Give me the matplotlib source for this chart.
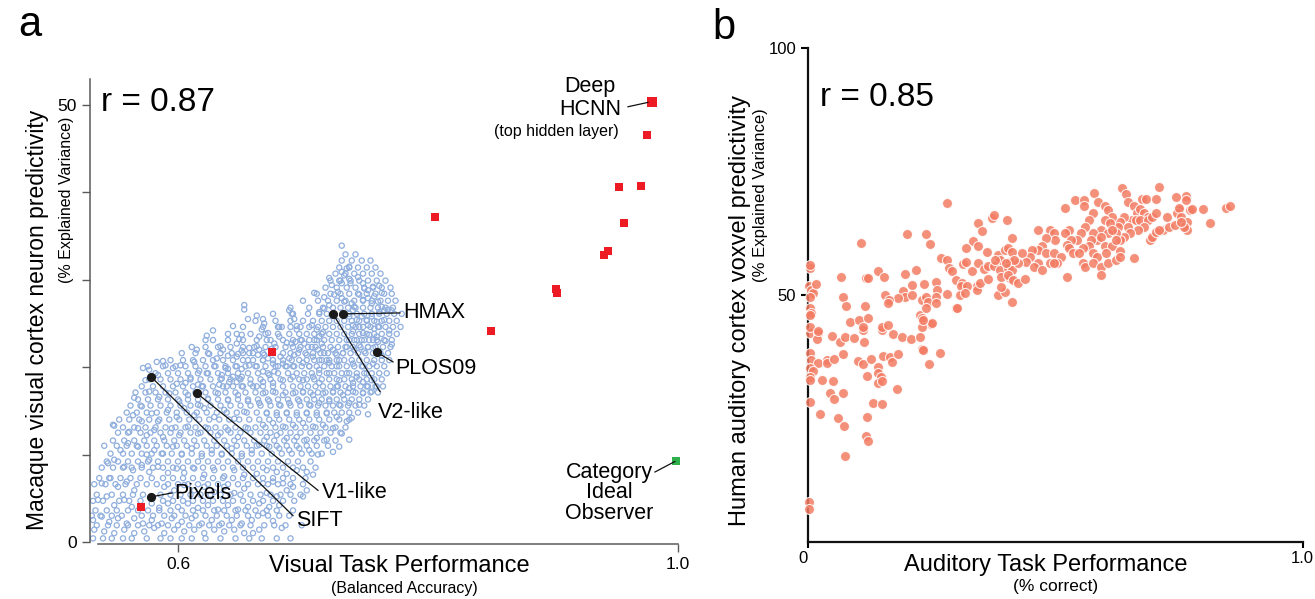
import numpy as np
import matplotlib
matplotlib.use("Agg")
import matplotlib.pyplot as plt

plt.rcParams['font.family'] = ['Liberation Sans', 'DejaVu Sans']

# ---------------- Panel a data ----------------
# blue cloud: (visual task performance, % explained variance), individual read-offs
cloud_a = [
(0.653,27.1),(0.653,26.6),(0.656,25.5),(0.644,24.7),(0.628,24.2),(0.623,23.6),(0.622,23.1),(0.615,22.0),(0.625,21.5),(0.634,22.4),
(0.636,22.0),(0.631,21.0),(0.640,21.3),(0.647,23.8),(0.651,23.7),(0.649,23.2),(0.647,22.7),(0.651,21.9),(0.648,21.5),(0.647,21.2),
(0.657,22.2),(0.657,21.6),(0.656,20.8),(0.657,20.2),(0.613,20.6),(0.629,20.1),(0.617,19.6),(0.623,19.3),(0.638,19.9),(0.640,19.8),
(0.647,20.1),(0.651,19.8),(0.583,20.6),(0.588,20.7),(0.590,20.2),(0.596,19.9),(0.602,20.2),(0.572,19.9),(0.576,20.1),(0.577,19.7),
(0.574,18.5),(0.584,19.1),(0.610,18.8),(0.599,18.1),(0.606,18.2),(0.616,18.0),(0.619,17.8),(0.635,19.1),(0.635,18.7),(0.644,18.9),
(0.641,18.3),(0.649,18.7),(0.651,18.9),(0.633,18.0),(0.639,17.8),(0.647,18.3),(0.651,17.8),(0.658,18.1),
(0.731,33.9),(0.737,31.5),(0.735,31.3),(0.731,30.9),(0.733,30.5),(0.721,30.2),(0.723,29.4),(0.729,29.9),(0.731,29.6),(0.737,30.1),
(0.738,29.6),(0.744,30.3),(0.748,29.6),(0.749,29.0),(0.752,28.8),(0.756,29.2),(0.761,29.3),(0.763,28.5),(0.709,28.5),(0.717,28.0),
(0.725,28.3),(0.728,28.6),(0.731,27.9),(0.733,27.5),(0.721,27.1),(0.717,26.7),(0.713,26.3),(0.739,27.3),(0.741,26.9),(0.740,26.5),
(0.745,28.3),(0.748,27.7),(0.752,27.9),(0.755,27.3),(0.757,28.1),(0.760,27.5),(0.763,26.9),(0.761,26.3),(0.765,26.5),(0.768,26.6),
(0.771,26.5),(0.737,25.8),(0.743,25.4),(0.747,25.8),(0.751,25.4),(0.755,25.8),(0.759,25.2),(0.752,24.8),(0.745,24.6),(0.740,24.8),
(0.757,24.4),(0.761,24.6),(0.748,23.9),(0.740,24.1),(0.753,23.7),(0.759,23.5),(0.743,23.1),(0.749,23.1),(0.756,23.1),(0.737,23.1),
(0.745,22.5),(0.752,22.3),(0.760,22.9),(0.741,22.0),(0.749,21.8),(0.756,22.2),(0.663,25.9),(0.668,25.5),(0.669,25.0),(0.672,23.9),
(0.667,24.3),(0.671,23.1),(0.665,23.5),(0.663,22.4),(0.664,21.4),(0.663,20.1),(0.669,21.4),(0.668,20.8),(0.672,21.0),(0.665,22.0),
(0.681,24.6),(0.683,24.6),(0.681,23.5),(0.677,22.7),(0.675,22.1),(0.682,21.2),(0.676,20.4),(0.680,20.1),(0.684,20.4),(0.677,19.5),
(0.673,19.1),(0.668,19.5),(0.689,26.5),(0.691,26.1),(0.693,25.5),(0.695,24.7),(0.695,24.3),(0.687,22.8),(0.691,22.7),(0.694,22.9),
(0.698,23.1),(0.701,22.7),(0.697,22.0),(0.693,21.4),(0.689,21.0),(0.687,20.1),(0.692,20.1),(0.707,24.8),(0.711,24.3),(0.709,23.1),
(0.713,23.5),(0.716,24.0),(0.715,22.7),(0.707,22.3),(0.712,22.0),(0.717,21.6),(0.708,21.2),(0.713,20.8),(0.719,20.8),(0.724,22.0),
(0.727,21.4),(0.721,20.5),(0.729,20.8),(0.727,20.1),(0.713,19.7),(0.705,20.1),(0.700,20.5),(0.703,21.4),(0.721,19.3),(0.708,18.9),
(0.732,21.6),(0.735,22.3),(0.740,20.4),(0.748,20.1),(0.756,20.4),(0.751,19.3),(0.743,18.9),(0.735,19.3),(0.729,18.5),(0.740,18.2),
(0.748,18.3),(0.755,18.5),(0.759,17.8),(0.751,17.8),(0.737,17.6),(0.727,17.8),(0.713,18.2),(0.700,18.5),(0.692,18.9),(0.684,18.5),
(0.676,18.2),(0.668,18.3),(0.663,17.8),(0.765,25.4),(0.769,24.2),(0.766,23.0),(0.763,21.3),(0.771,22.6),
(0.668,17.0),(0.676,17.2),(0.684,16.8),(0.692,17.0),(0.700,17.2),(0.708,16.8),(0.716,17.0),(0.724,17.2),(0.732,16.8),(0.740,17.2),
(0.748,17.0),(0.755,17.2),(0.665,15.9),(0.673,16.1),(0.681,15.7),(0.689,15.9),(0.697,16.1),(0.705,15.7),(0.713,15.9),(0.721,16.1),
(0.729,15.7),(0.737,15.9),(0.745,15.7),(0.671,14.7),(0.679,14.5),(0.687,14.7),(0.695,14.5),(0.703,14.7),(0.711,14.5),(0.719,14.7),
(0.727,14.3),(0.735,13.8),(0.739,14.2),(0.752,14.6),(0.668,13.4),(0.676,13.6),(0.684,13.2),(0.692,13.4),(0.700,13.6),(0.708,13.2),
(0.716,13.4),(0.724,13.0),(0.731,12.4),(0.737,11.7),(0.729,10.9),(0.671,12.0),(0.679,12.2),(0.687,11.9),(0.695,12.0),(0.703,11.7),
(0.711,11.9),(0.719,11.7),(0.724,10.3),(0.712,10.0),(0.705,10.5),(0.697,10.7),(0.689,10.5),(0.681,10.7),(0.673,10.9),(0.665,11.1),
(0.708,7.7),(0.703,8.0),(0.695,8.2),(0.687,7.8),(0.679,8.0),(0.671,8.2),(0.663,7.8),(0.692,6.3),(0.684,6.7),(0.676,6.9),
(0.668,6.7),(0.687,5.9),(0.679,5.2),(0.671,5.6),(0.700,5.2),(0.703,5.9),(0.681,4.2),(0.673,4.0),(0.665,4.4),(0.668,3.3),
(0.676,2.4),(0.683,1.6),(0.665,1.4),(0.660,1.0),
(0.577,17.2),(0.585,16.6),(0.593,17.0),(0.601,16.1),(0.608,16.8),(0.616,15.7),(0.624,16.4),(0.632,17.0),(0.640,16.2),(0.648,16.8),
(0.656,16.1),(0.564,14.5),(0.571,15.5),(0.571,13.8),(0.579,14.7),(0.584,13.8),(0.592,15.1),(0.599,14.3),(0.605,15.3),(0.613,14.5),
(0.621,15.3),(0.629,14.3),(0.637,15.1),(0.645,14.1),(0.653,14.9),(0.548,13.4),(0.561,12.6),(0.568,13.0),(0.575,12.2),(0.581,12.8),
(0.588,12.0),(0.595,13.0),(0.601,12.2),(0.608,13.2),(0.616,12.4),(0.624,13.0),(0.632,12.2),(0.640,12.8),(0.648,12.0),(0.656,13.0),
(0.554,10.5),(0.560,11.3),(0.568,10.9),(0.575,10.0),(0.577,9.4),(0.581,10.5),(0.588,10.1),(0.596,10.9),(0.603,10.0),(0.611,10.7),
(0.619,9.8),(0.627,10.5),(0.635,10.0),(0.643,10.7),(0.651,9.8),(0.659,10.5),(0.544,9.0),(0.549,9.4),(0.557,8.6),(0.564,8.2),
(0.571,8.8),(0.577,8.0),(0.584,8.6),(0.592,7.9),(0.599,8.4),(0.605,7.9),(0.613,8.4),(0.621,7.7),(0.629,8.2),(0.637,7.5),
(0.645,8.2),(0.653,7.7),(0.539,6.7),(0.545,7.3),(0.552,6.3),(0.559,6.9),(0.565,5.9),(0.589,6.3),(0.597,5.9),(0.605,6.5),
(0.613,5.9),(0.621,6.3),(0.629,5.7),(0.637,6.3),(0.645,5.6),(0.653,6.1),(0.536,4.8),(0.543,5.2),(0.549,4.2),(0.557,4.8),
(0.563,4.0),(0.579,4.4),(0.585,3.9),(0.592,4.4),(0.600,4.0),(0.608,4.4),(0.616,3.9),(0.624,4.2),(0.632,3.7),(0.640,4.2),
(0.648,3.7),(0.656,4.0),(0.532,2.5),(0.539,2.9),(0.545,2.3),(0.552,2.7),(0.559,2.1),(0.565,2.7),(0.572,2.1),(0.579,2.5),
(0.587,2.1),(0.595,2.7),(0.603,2.3),(0.611,2.7),(0.619,2.1),(0.627,2.5),(0.635,2.1),(0.643,2.5),(0.651,2.1),(0.659,2.5),
(0.533,1.4),(0.541,1.2),(0.549,1.0),(0.557,1.4),(0.565,1.0),(0.573,1.2),(0.581,1.6),(0.589,1.0),(0.597,1.4),(0.605,1.2),
(0.613,1.4),(0.621,1.0),(0.629,1.4),(0.637,1.2),(0.645,1.4),(0.653,1.0),(0.549,13.3),(0.565,16.5),
]

# further read-offs of the cloud, scanned row by row: (height, [performances])
cloud_a_rows = [
(0.4, [.532,.540,.547,.556,.563,.575,.586,.594,.603,.611,.622,.634,.646,.657,.667,.679,.690]),
(1.9, [.535,.544,.551,.560,.568,.577,.584,.592,.600,.609,.617,.625,.633,.641,.650,.658,.669,.677,.686,.699]),
(3.0, [.531,.538,.547,.555,.571,.580,.589,.597,.606,.614,.622,.631,.639,.647,.656,.664,.672,.681,.689]),
(3.6, [.534,.543,.551,.560,.568,.576,.585,.594,.603,.612,.620,.629,.637,.646,.654,.662,.671,.679,.692]),
(4.7, [.532,.540,.553,.561,.570,.588,.596,.604,.612,.620,.628,.636,.644,.652,.660,.668,.676,.684,.693]),
(5.4, [.535,.547,.556,.564,.572,.586,.594,.602,.610,.618,.626,.634,.642,.650,.658,.666,.674,.682,.690,.698]),
(6.6, [.533,.542,.550,.558,.567,.575,.583,.592,.600,.608,.616,.624,.632,.640,.648,.656,.664,.672,.680,.690,.700]),
(7.3, [.537,.546,.554,.562,.570,.579,.588,.596,.604,.612,.620,.628,.636,.644,.652,.660,.668,.676,.684,.692,.702]),
(8.5, [.539,.548,.556,.563,.571,.580,.588,.596,.604,.612,.620,.628,.636,.644,.652,.660,.668,.676,.684,.692,.700,.710]),
(9.2, [.543,.552,.560,.568,.576,.584,.592,.600,.608,.616,.624,.632,.640,.648,.656,.664,.672,.680,.688,.696,.706]),
(10.1, [.546,.556,.563,.571,.579,.587,.595,.603,.611,.619,.627,.635,.643,.651,.659,.667,.675,.683,.691,.699,.707,.715]),
(11.0, [.541,.551,.559,.567,.575,.583,.591,.599,.607,.615,.623,.631,.639,.647,.655,.663,.671,.679,.687,.695,.703,.711,.720]),
(11.6, [.548,.557,.565,.573,.581,.589,.597,.605,.613,.621,.629,.637,.645,.653,.661,.669,.677,.685,.693,.701,.709,.717,.726]),
(12.5, [.552,.560,.570,.578,.586,.594,.602,.610,.618,.626,.634,.642,.650,.658,.666,.674,.682,.690,.698,.706,.714,.722,.730]),
(13.1, [.556,.565,.574,.582,.590,.598,.606,.614,.622,.630,.638,.646,.654,.662,.670,.678,.686,.694,.702,.710,.718,.726,.734]),
(14.0, [.553,.561,.569,.577,.585,.593,.601,.609,.617,.625,.633,.641,.649,.657,.665,.673,.681,.689,.697,.705,.713,.721,.729,.737]),
(14.8, [.559,.567,.575,.583,.591,.599,.607,.615,.623,.631,.639,.647,.655,.663,.671,.679,.687,.695,.703,.711,.719,.725,.731,.737,.744]),
(15.6, [.562,.570,.578,.586,.594,.602,.610,.618,.626,.634,.642,.650,.658,.666,.674,.682,.690,.698,.706,.712,.718,.724,.730,.736,.742,.749]),
(16.3, [.568,.576,.584,.592,.600,.608,.616,.624,.632,.640,.648,.656,.664,.672,.680,.688,.696,.703,.709,.715,.721,.727,.733,.739,.745,.752]),
(17.1, [.566,.574,.582,.590,.598,.606,.614,.622,.630,.638,.646,.654,.662,.670,.678,.686,.694,.700,.706,.712,.718,.724,.730,.736,.742,.748,.754,.760]),
(17.8, [.571,.580,.588,.596,.604,.612,.620,.628,.636,.644,.652,.660,.668,.676,.684,.692,.698,.704,.710,.716,.722,.728,.734,.740,.746,.752,.758,.764]),
(18.6, [.577,.586,.594,.602,.610,.618,.626,.634,.642,.650,.658,.666,.674,.682,.690,.697,.703,.709,.715,.721,.727,.733,.739,.745,.751,.757,.763]),
(19.3, [.582,.592,.600,.608,.616,.624,.632,.640,.648,.656,.664,.672,.680,.688,.695,.701,.707,.713,.719,.725,.731,.737,.743,.749,.755,.761,.767]),
(20.1, [.588,.598,.606,.614,.622,.630,.638,.646,.654,.662,.670,.678,.686,.693,.699,.705,.711,.717,.723,.729,.735,.741,.747,.753,.759,.765]),
(20.8, [.594,.604,.612,.620,.628,.636,.644,.652,.660,.668,.676,.684,.691,.697,.703,.709,.715,.721,.727,.733,.739,.745,.751,.757,.763,.769]),
(21.6, [.603,.614,.624,.634,.643,.652,.660,.668,.676,.684,.690,.696,.702,.708,.714,.720,.726,.732,.738,.744,.750,.756,.762,.768]),
(22.3, [.611,.622,.632,.642,.652,.661,.670,.678,.686,.692,.698,.704,.710,.716,.722,.728,.734,.740,.746,.752,.758,.764,.770]),
(23.1, [.628,.640,.652,.663,.674,.684,.692,.699,.705,.711,.717,.723,.729,.735,.741,.747,.753,.759,.765,.771]),
(23.8, [.640,.658,.670,.680,.689,.697,.703,.709,.715,.721,.727,.733,.739,.745,.751,.757,.763,.769,.775]),
(24.6, [.652,.668,.680,.690,.698,.705,.712,.718,.724,.730,.736,.742,.748,.754,.760,.766,.772,.778]),
(25.3, [.662,.678,.690,.700,.708,.715,.721,.727,.733,.739,.745,.751,.757,.763,.769,.775]),
(26.1, [.676,.692,.704,.713,.719,.737,.743,.749,.755,.761,.767,.773,.779]),
(26.8, [.690,.705,.716,.724,.730,.736,.742,.748,.754,.760,.766,.772]),
(27.6, [.700,.712,.720,.727,.734,.741,.748,.755,.762,.768,.774]),
(28.4, [.711,.722,.730,.737,.744,.751,.758,.765,.771]),
(29.1, [.718,.727,.735,.742,.749,.756,.763,.770]),
(29.9, [.722,.730,.738,.745,.752,.759,.766]),
(30.7, [.726,.734,.741,.748,.755,.762]),
(31.4, [.729,.737,.744,.751,.758]),
(32.2, [.731,.739,.747,.754]),
(32.9, [.734,.742]),
]

# red squares (deep networks), first one = top hidden layer (drawn larger)
red_x = [0.9792, 0.9752, 0.9528, 0.9704, 0.9568, 0.9440, 0.9408, 0.9024, 0.9032, 0.8056, 0.8504, 0.6752, 0.5704]
red_y = [50.4, 46.6, 40.6, 40.7, 36.5, 33.3, 32.8, 28.9, 28.5, 37.2, 24.1, 21.7, 4.0]
# green square (category ideal observer)
green_x = [0.9984]
green_y = [9.3]
# named models (black dots)
model_names = ["Pixels", "SIFT", "V1-like", "V2-like", "HMAX", "PLOS09"]
model_x = [0.5784, 0.5784, 0.6152, 0.7240, 0.7320, 0.7592]
model_y = [5.15, 18.9, 17.0, 26.1, 26.1, 21.7]

# ---------------- Panel b data ----------------
cloud_b = [
(0.005,42.2),(0.022,42.3),(0.019,41.0),(0.049,41.7),(0.066,40.5),(0.076,41.4),(0.093,41.3),(0.115,40.4),(0.113,42.9),(0.151,42.9),
(0.173,42.1),(0.190,41.5),(0.210,41.1),(0.227,41.5),(0.231,39.0),(0.234,38.8),(0.268,38.2),(0.245,35.9),(0.005,38.2),(0.008,36.8),
(0.022,36.1),(0.039,36.8),(0.039,36.1),(0.054,37.1),(0.072,38.0),(0.103,36.6),(0.113,35.9),(0.128,37.0),(0.142,35.4),(0.153,37.7),
(0.167,37.5),(0.171,36.3),(0.182,38.0),(0.005,35.1),(0.012,34.6),(0.005,33.4),(0.005,32.8),(0.030,32.8),(0.052,32.6),(0.120,33.6),
(0.143,34.1),(0.148,33.4),(0.143,32.2),(0.151,32.6),(0.180,30.9),(0.045,30.2),(0.054,29.0),(0.071,30.1),(0.005,28.2),(0.025,25.8),
(0.062,25.0),(0.073,23.4),(0.120,25.2),(0.132,28.0),(0.150,27.9),(0.118,21.4),(0.122,20.3),(0.076,17.4),(0.003,8.1),(0.003,6.6),
(0.282,68.7),(0.109,60.6),(0.202,62.3),(0.239,62.3),(0.247,60.4),(0.344,64.6),(0.352,62.9),(0.372,65.6),(0.377,66.2),(0.404,65.2),
(0.335,60.9),(0.320,59.4),(0.344,59.8),(0.362,58.7),(0.385,58.1),(0.389,57.0),(0.398,59.1),(0.406,59.4),(0.413,61.5),(0.413,58.7),
(0.409,56.7),(0.269,57.4),(0.281,57.1),(0.286,55.4),(0.291,54.9),(0.314,56.2),(0.320,56.7),(0.332,54.9),(0.345,56.5),(0.357,55.2),
(0.365,55.8),(0.377,55.8),(0.379,57.1),(0.389,55.0),(0.390,53.7),(0.406,55.4),(0.413,55.0),(0.409,53.4),(0.300,53.0),(0.312,52.3),
(0.310,51.7),(0.322,51.8),(0.342,51.7),(0.343,51.0),(0.348,52.3),(0.365,53.2),(0.308,50.0),(0.318,50.3),(0.301,47.3),(0.384,50.0),
(0.398,50.6),(0.281,50.2),(0.259,52.7),(0.262,51.0),(0.236,52.2),(0.212,51.9),(0.219,55.0),(0.196,54.2),(0.192,50.8),(0.197,49.5),
(0.212,50.0),(0.183,49.3),(0.157,50.0),(0.165,49.0),(0.163,48.4),(0.143,54.8),(0.155,53.7),(0.118,53.5),(0.122,53.5),(0.068,53.7),
(0.071,49.5),(0.078,47.8),(0.116,47.7),(0.086,44.6),(0.104,44.9),(0.122,45.3),(0.113,43.5),(0.150,43.5),(0.163,43.9),(0.231,49.0),
(0.239,49.6),(0.243,48.6),(0.259,49.5),(0.260,48.4),(0.227,45.9),(0.231,45.3),(0.239,47.3),(0.249,44.1),(0.231,43.5),(0.005,55.4),
(0.003,51.7),(0.008,51.0),(0.012,50.3),(0.005,49.6),(0.005,47.3),(0.008,46.3),(0.005,45.9),(0.017,52.2),(0.005,43.4),(0.021,42.7),
(0.005,56.0),(0.406,54.0),(0.416,53.0),(0.414,48.6),(0.303,47.3),(0.251,44.2),(0.234,44.9),(0.425,52.5),(0.440,53.2),(0.390,51.5),
(0.579,70.7),(0.636,71.7),(0.643,70.4),(0.711,71.8),(0.704,69.4),(0.676,69.4),(0.684,69.4),(0.745,69.9),(0.764,70.0),(0.764,69.2),
(0.586,68.9),(0.600,68.0),(0.541,69.2),(0.558,69.2),(0.521,67.5),(0.559,67.9),(0.648,68.9),(0.846,67.5),(0.853,67.9),(0.799,67.4),
(0.813,64.5),(0.751,67.1),(0.773,67.2),(0.777,67.3),(0.727,65.8),(0.747,66.5),(0.750,67.5),(0.755,65.8),(0.767,64.8),(0.767,63.2),
(0.761,63.8),(0.719,63.2),(0.731,63.8),(0.743,64.2),(0.755,64.8),(0.692,61.1),(0.696,61.8),(0.704,62.8),(0.711,63.2),(0.660,67.9),
(0.666,66.5),(0.672,67.3),(0.680,66.5),(0.688,65.8),(0.656,65.2),(0.664,65.2),(0.672,65.2),(0.688,65.2),(0.696,65.8),(0.704,66.5),
(0.680,63.8),(0.668,63.2),(0.640,65.8),(0.632,64.8),(0.628,63.8),(0.648,63.8),(0.652,62.5),(0.640,61.8),(0.632,61.1),(0.624,62.5),
(0.608,67.2),(0.616,65.8),(0.600,65.2),(0.612,64.5),(0.592,63.2),(0.608,62.5),(0.616,63.2),(0.585,61.1),(0.577,62.5),(0.592,61.8),
(0.600,59.8),(0.616,59.8),(0.624,61.1),(0.577,66.5),(0.569,65.2),(0.561,63.8),(0.553,62.5),(0.573,61.1),(0.569,59.8),(0.577,58.4),
(0.557,59.4),(0.545,61.1),(0.585,57.7),(0.604,58.4),(0.632,58.8),(0.660,57.4),(0.529,63.2),(0.521,62.5),(0.533,61.1),(0.525,60.1),
(0.529,59.4),(0.537,58.4),(0.549,58.4),(0.489,63.2),(0.497,62.5),(0.501,61.1),(0.481,61.5),(0.473,59.8),(0.465,59.1),(0.481,58.4),
(0.497,58.4),(0.513,57.7),(0.505,56.4),(0.489,56.4),(0.465,63.2),(0.453,59.1),(0.449,57.7),(0.434,58.4),(0.442,56.7),(0.426,56.4),
(0.418,57.1),(0.402,56.4),(0.465,56.4),(0.458,55.7),(0.473,55.0),(0.497,56.4),(0.557,56.4),(0.561,55.7),(0.577,56.4),(0.592,55.7),
(0.608,56.4),(0.624,57.1),(0.632,57.7),(0.592,54.0),(0.525,53.7),
]

# ---------------- Figure ----------------
W, H = 1315, 599
fig = plt.figure(figsize=(W / 100, H / 100), dpi=100)

blue = '#8FAEDD'
red = '#ED1C24'
green = '#2EB04B'
salmon = '#F37B62'
grey = '#5A5A5A'

# ===== panel a =====
axa = fig.add_axes([90 / W, (H - 548) / H, 600 / W, 488 / H])
axa.set_xlim(0.5296, 1.0096)
axa.set_ylim(-0.7, 55.15)
ca = np.array(cloud_a)
rx = np.array([x for y, xs in cloud_a_rows for x in xs])
ry = np.array([y for y, xs in cloud_a_rows for x in xs])
allx = np.concatenate([ca[:, 0], rx])
ally = np.concatenate([ca[:, 1], ry])
axa.scatter(allx, ally, s=14, facecolors='none', edgecolors=blue, linewidths=0.9, zorder=2)
axa.scatter(red_x[1:], red_y[1:], marker='s', s=30, color=red, linewidths=0, zorder=3)
axa.scatter(red_x[:1], red_y[:1], marker='s', s=62, color=red, linewidths=0, zorder=3)
axa.scatter(green_x, green_y, marker='s', s=36, color=green, linewidths=0, zorder=3)
axa.scatter(model_x, model_y, s=44, color='#1A1A1A', linewidths=0, zorder=5)

for s in ['top', 'right']:
    axa.spines[s].set_visible(False)
axa.spines['left'].set_bounds(0, 53)
axa.spines['left'].set_color(grey)
axa.spines['left'].set_linewidth(1.1)
axa.spines['bottom'].set_position(('data', -0.25))
axa.spines['bottom'].set_bounds(0.536, 1.0)
axa.spines['bottom'].set_color(grey)
axa.spines['bottom'].set_linewidth(1.1)
axa.set_yticks([0, 10, 20, 30, 40, 50])
axa.set_yticklabels(['0', '', '', '', '', '50'])
axa.set_xticks([0.6, 1.0])
axa.set_xticklabels(['0.6', '1.0'])
axa.tick_params(axis='both', direction='out', length=5.5, width=1.0, color=grey, labelsize=12.5, pad=4)

# annotations
lk = dict(color='#111111', lw=0.9, zorder=4)
fs_lab = 15.5
axa.plot([model_x[4], 0.7776], [model_y[4], 26.2], **lk)
axa.text(0.7800, 26.2, 'HMAX', fontsize=fs_lab, va='center', ha='left')
axa.plot([model_x[5], 0.7720], [model_y[5], 20.6], **lk)
axa.text(0.7740, 19.9, 'PLOS09', fontsize=fs_lab, va='center', ha='left')
axa.plot([model_x[3], 0.7616], [model_y[3], 17.2], **lk)
axa.text(0.7600, 14.8, 'V2-like', fontsize=fs_lab, va='center', ha='left')
axa.plot([model_x[2], 0.7120], [model_y[2], 5.9], **lk)
axa.text(0.7150, 5.6, 'V1-like', fontsize=fs_lab, va='center', ha='left')
axa.plot([model_x[1], 0.6920], [model_y[1], 3.0], **lk)
axa.text(0.6944, 2.4, 'SIFT', fontsize=fs_lab, va='center', ha='left')
axa.plot([model_x[0], 0.5952], [model_y[0], 5.6], **lk)
axa.text(0.5970, 5.5, 'Pixels', fontsize=fs_lab, va='center', ha='left')
axa.plot([0.9600, 0.9760], [49.8, 50.3], **lk)
axa.text(0.9296, 52.1, 'Deep', fontsize=fs_lab, va='center', ha='center')
axa.text(0.9296, 49.5, 'HCNN', fontsize=fs_lab, va='center', ha='center')
axa.text(0.9024, 47.0, '(top hidden layer)', fontsize=11.5, va='center', ha='center')
axa.plot([0.9816, 0.9975], [8.0, 9.2], **lk)
axa.text(0.9448, 7.9, 'Category', fontsize=fs_lab, va='center', ha='center')
axa.text(0.9448, 5.6, 'Ideal', fontsize=fs_lab, va='center', ha='center')
axa.text(0.9448, 3.3, 'Observer', fontsize=fs_lab, va='center', ha='center')

axa.text(0.5384, 50.3, 'r = 0.87', fontsize=24, va='center', ha='left')

fig.text(38 / W, 1 - 320 / H, 'Macaque visual cortex neuron predictivity', rotation=90,
         fontsize=16.5, ha='center', va='center')
fig.text(67 / W, 1 - 200 / H, '(% Explained Variance)', rotation=90,
         fontsize=11.5, ha='center', va='center')
fig.text(399 / W, 1 - 566 / H, 'Visual Task Performance', fontsize=17, ha='center', va='center')
fig.text(404 / W, 1 - 589 / H, '(Balanced Accuracy)', fontsize=11.5, ha='center', va='center')
fig.text(30 / W, 1 - 25 / H, 'a', fontsize=30, ha='center', va='center')

# ===== panel b =====
axb = fig.add_axes([807.5 / W, (H - 541.7) / H, 495 / W, 493.7 / H])
axb.set_xlim(0, 1)
axb.set_ylim(0, 100)
cb = np.array(cloud_b)
axb.scatter(cb[:, 0], cb[:, 1], s=52, color=salmon, alpha=0.85, edgecolors='white',
            linewidths=0.8, zorder=3, clip_on=False)
for s in ['top', 'right']:
    axb.spines[s].set_visible(False)
for s in ['left', 'bottom']:
    axb.spines[s].set_linewidth(1.6)
    axb.spines[s].set_color('#111111')
axb.set_yticks([50, 100])
axb.set_yticklabels(['50', '100'])
axb.set_xticks([0, 1.0])
axb.set_xticklabels(['0', '1.0'])
axb.tick_params(axis='y', direction='out', length=5, width=1.5, labelsize=12, pad=3)
axb.tick_params(axis='x', direction='out', length=4, width=1.5, labelsize=12, pad=3)
axb.get_xticklabels()[0].set_horizontalalignment('right')
axb.text(0.025, 90.0, 'r = 0.85', fontsize=24, va='center', ha='left')

fig.text(740 / W, 1 - 311 / H, 'Human auditory cortex voxvel predictivity', rotation=90,
         fontsize=17, ha='center', va='center')
fig.text(761 / W, 1 - 195 / H, '(% Explained Variance)', rotation=90,
         fontsize=12, ha='center', va='center')
fig.text(1046 / W, 1 - 565 / H, 'Auditory Task Performance', fontsize=17, ha='center', va='center')
fig.text(1056 / W, 1 - 586 / H, '(% correct)', fontsize=12.5, ha='center', va='center')
fig.text(724 / W, 1 - 28 / H, 'b', fontsize=30, ha='center', va='center')

fig.savefig('out.png', dpi=100)
